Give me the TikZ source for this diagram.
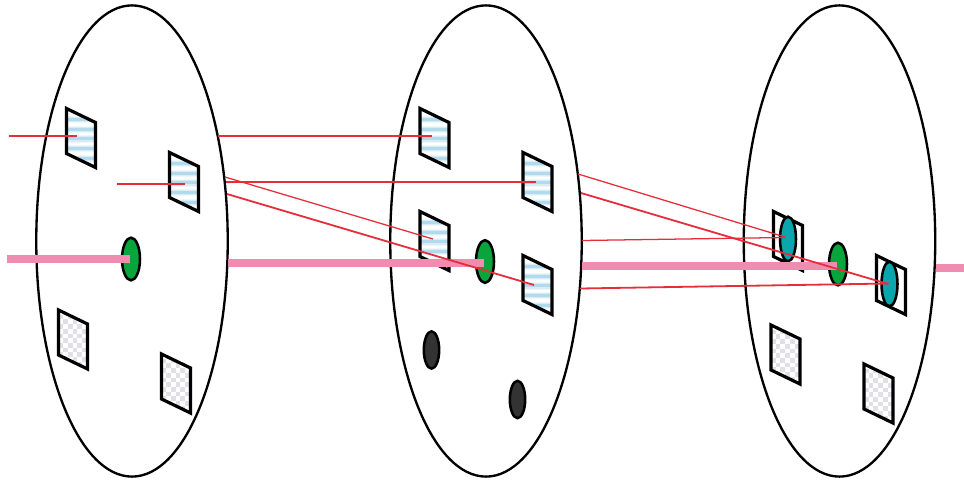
\documentclass[tikz,border=0pt]{standalone}
\usetikzlibrary{shapes.geometric}
\definecolor{stripeblue}{HTML}{B2DAED}
\definecolor{stripemid}{HTML}{D8ECF6}
\definecolor{stripepale}{HTML}{F0F7FB}
\definecolor{checkgrey}{HTML}{E0E0E6}
\definecolor{ovalgreen}{HTML}{08A53C}
\definecolor{ovalteal}{HTML}{0AA5AD}
\definecolor{ovaldark}{HTML}{333333}
\definecolor{beampink}{HTML}{F08CB0}
\definecolor{rayred}{HTML}{E62E3A}
\tikzset{
  x=0.75pt,y=-0.75pt,
  bigoval/.style={draw=black,ellipse,line width=1.75pt,minimum width=143.6pt,minimum height=353.4pt,inner sep=0pt},
  smalloval/.style={draw=black,ellipse,line width=1.9pt,inner sep=0pt},
  greenoval/.style={smalloval,fill=ovalgreen,minimum width=13.5pt,minimum height=32pt},
  tealoval/.style={smalloval,fill=ovalteal,minimum width=12pt,minimum height=33.5pt},
  darkoval/.style={smalloval,fill=ovaldark,minimum width=11.5pt,minimum height=28pt},
  frame/.style={draw=black,line width=2.4pt,line join=miter},
  beam/.style={draw=beampink,line width=6pt},
  raythin/.style={draw=rayred,line width=0.95pt},
  raythick/.style={draw=rayred,line width=1.35pt},
}
\newcommand{\panelpath}{(0,0) -- (29,14) -- (29,59) -- (0,45) -- cycle}
\newcommand{\stripepanel}[2]{%
  \begin{scope}[shift={(#1,#2)}]
    \fill[white] \panelpath;
    \begin{scope}
      \clip \panelpath;
      \foreach \k in {0,...,5}{
        \fill[stripepale] (0,7.3+9.7*\k) rectangle (29,14.7+9.7*\k);
        \fill[stripemid] (0,8.3+9.7*\k) rectangle (29,13.7+9.7*\k);
        \fill[stripeblue] (0,9.5+9.7*\k) rectangle (29,12.5+9.7*\k);
      }
    \end{scope}
    \draw[frame] \panelpath;
  \end{scope}}
\newcommand{\checkpanel}[2]{%
  \begin{scope}[shift={(#1,#2)}]
    \fill[white] \panelpath;
    \begin{scope}
      \clip \panelpath;
      \foreach \i in {0,...,6}{\foreach \j in {0,...,13}{
        \pgfmathsetmacro{\odd}{int(mod(\i+\j,2))}
        \ifnum\odd=1 \fill[checkgrey] (\i*4.7,\j*4.7) rectangle ++(4.7,4.7);\fi
      }}
    \end{scope}
    \draw[frame] \panelpath;
  \end{scope}}
\newcommand{\whitepanel}[2]{%
  \begin{scope}[shift={(#1,#2)}]
    \draw[frame,fill=white] \panelpath;
  \end{scope}}
\begin{document}
\begin{tikzpicture}
\useasboundingbox (0,0) rectangle (964,482);
\fill[white] (0,0) rectangle (964,482);
% large ovals
\node[bigoval] (L) at (132,241) {};
\node[bigoval] (M) at (486,241) {};
\node[bigoval] (R) at (839.5,241) {};
% panels, left
\stripepanel{66.5}{108.5}
\stripepanel{169.5}{152.5}
\checkpanel{58.5}{310}
\checkpanel{161.5}{354}
% panels, middle
\stripepanel{420}{108.5}
\stripepanel{523}{152.5}
\stripepanel{420}{211.5}
\stripepanel{523}{255.5}
% panels, right
\checkpanel{771}{325}
\checkpanel{864}{364}
\whitepanel{773.5}{211.5}
\whitepanel{876.5}{255.5}
% ovals
\node[greenoval] (gL) at (131,259) {};
\node[greenoval] (gM) at (485,261.5) {};
\node[greenoval] (gR) at (838,264) {};
\node[darkoval] (dA) at (431.5,350) {};
\node[darkoval] (dB) at (517.5,399.5) {};
\node[tealoval] (tA) at (788,239) {};
\node[tealoval] (tB) at (889.5,284) {};
% free ends
\coordinate (b1a) at (7,259);   \coordinate (b1b) at (130,259);
\coordinate (b2a) at (228,263); \coordinate (b2b) at (484,263);
\coordinate (b3a) at (582,266); \coordinate (b3b) at (837,266);
\coordinate (b4a) at (936,268); \coordinate (b4b) at (964,268);
\coordinate (r1a) at (9,136);    \coordinate (r1b) at (77,136);
\coordinate (r2a) at (218,136);  \coordinate (r2b) at (432,136);
\coordinate (r3a) at (117,184);  \coordinate (r3b) at (185,184);
\coordinate (r4a) at (226,182);  \coordinate (r4b) at (536,182);
\coordinate (r5a) at (225,177);  \coordinate (r5b) at (433,239);
\coordinate (r6a) at (227,194);  \coordinate (r6b) at (534,285);
\coordinate (r7a) at (578,174);  \coordinate (r7b) at (785,237);
\coordinate (r8a) at (581,193);  \coordinate (r8b) at (888,284);
\coordinate (r9a) at (582,240.5);\coordinate (r9b) at (785,237.5);
\coordinate (r0a) at (580,288.5);\coordinate (r0b) at (889,283.5);
% beams
\draw[beam] (b1a) -- (b1b);
\draw[beam] (b2a) -- (b2b);
\draw[beam] (b3a) -- (b3b);
\draw[beam] (b4a) -- (b4b);
% rays
\draw[raythin] (r1a) -- (r1b);
\draw[raythin] (r2a) -- (r2b);
\draw[raythick] (r3a) -- (r3b);
\draw[raythick] (r4a) -- (r4b);
\draw[raythin] (r5a) -- (r5b);
\draw[raythick] (r6a) -- (r6b);
\draw[raythin] (r7a) -- (r7b);
\draw[raythick] (r8a) -- (r8b);
\draw[raythin] (r9a) -- (r9b);
\draw[raythick] (r0a) -- (r0b);
\end{tikzpicture}
\end{document}
